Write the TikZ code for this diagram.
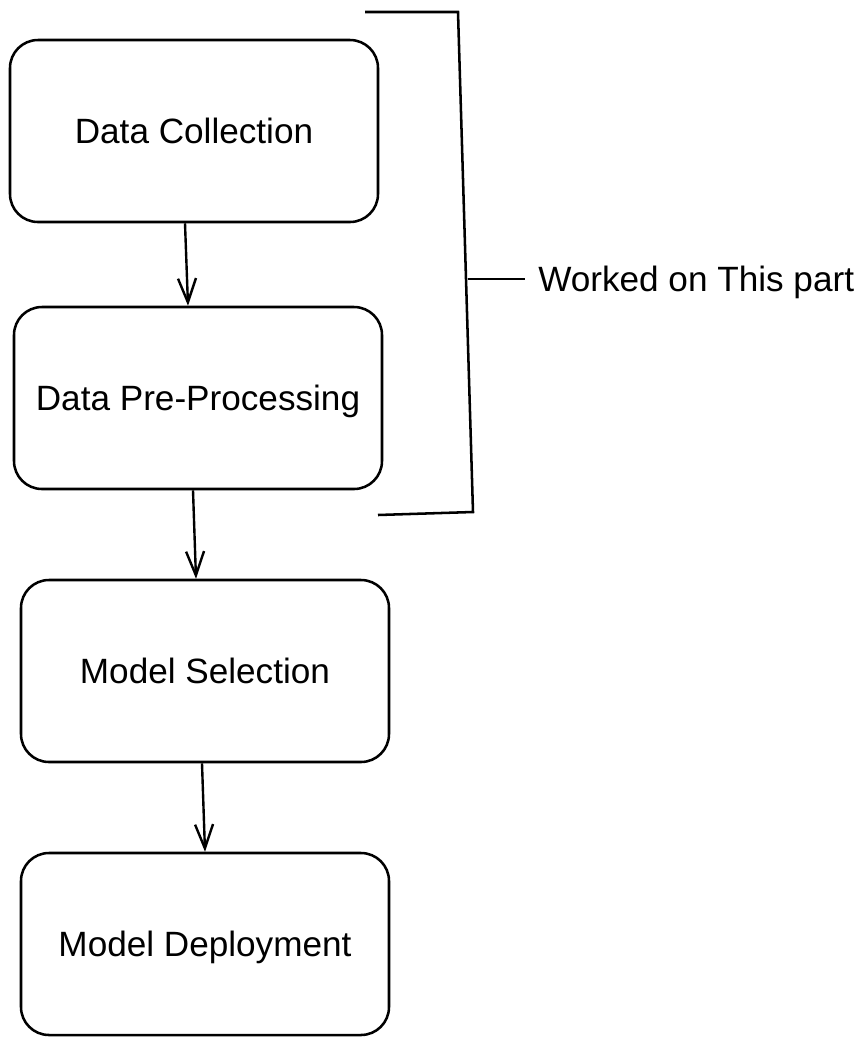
\documentclass[tikz,border=0pt]{standalone}
\usepackage{fontspec}
\setmainfont{Liberation Sans}
\usetikzlibrary{arrows.meta}

\begin{document}
\begin{tikzpicture}[x=0.25mm, y=-0.25mm,
  stage/.style={draw, rounded corners=7mm, minimum width=92mm, minimum height=45.5mm,
    inner sep=0pt, line width=1.8pt, font=\fontsize{25}{30}\selectfont,
    text height=18pt, text depth=0pt},
  flow/.style={-{Straight Barb[length=6mm,width=4.5mm]}, line width=1.7pt},
  brace/.style={line width=1.8pt, line join=miter}]
\useasboundingbox (0,0) rectangle (868,1045);

% Pipeline stages
\node[stage] (DC) at (194,131) {Data Collection};
\node[stage] (DP) at (198,398) {Data Pre-Processing};
\node[stage] (MS) at (205,671) {Model Selection};
\node[stage] (MD) at (205,944) {Model Deployment};

\draw[flow] ([xshift=-2.25mm]DC.south) -- ([xshift=-2.5mm]DP.north);
\draw[flow] ([xshift=-1.25mm]DP.south) -- ([xshift=-2.25mm]MS.north);
\draw[flow] ([xshift=-0.75mm]MS.south) -- (MD.north);

% Bracket round the first two stages
\coordinate (BT) at (365,12);
\coordinate (BB) at (378,515);
\coordinate (BK) at (468,279);
\draw[brace] (BT) -- (458,12) -- (473,512) -- (BB);

\node[anchor=west, inner xsep=3.25mm, inner ysep=0pt, font=\fontsize{25}{30}\selectfont,
  text height=18pt, text depth=0pt] (WP) at (525,279) {Worked on This part};
\draw[brace] (BK) -- (WP.west);
\end{tikzpicture}
\end{document}
